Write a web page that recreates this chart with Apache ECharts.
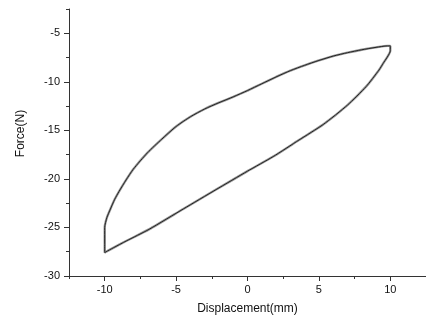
<!DOCTYPE html>
<html>
<head>
<meta charset="utf-8">
<script src="https://cdn.jsdelivr.net/npm/echarts@6/dist/echarts.min.js"></script>
<style>html,body{margin:0;padding:0;background:#fff}#c{width:426px;height:320px}</style>
</head>
<body>
<div id="c"></div>
<script>
// Displacement (mm) and Force (N) around the hysteresis loop
var displacement = [-10.0, -10.0, -10.0, -9.85, -9.6, -9.3, -9.0, -8.5, -8.0, -7.0, -6.0, -5.0, -4.0, -3.0, -2.0, -1.0, 0.0, 1.0, 2.0, 3.0, 4.0, 5.0, 6.0, 7.0, 8.0, 9.0, 9.8, 10.0,
                    10.0, 9.5, 9.2, 8.3, 7.0, 5.3, 3.6, 1.8, 0.0, -2.2, -4.5, -6.9, -8.5, -9.4, -9.9, -10.0];
var force = [-27.6, -26.5, -25.0, -24.0, -23.1, -22.1, -21.3, -20.1, -19.0, -17.3, -15.9, -14.6, -13.6, -12.8, -12.15, -11.55, -10.9, -10.2, -9.5, -8.85, -8.3, -7.8, -7.35, -7.0, -6.7, -6.45, -6.3, -6.3,
             -6.8, -8.1, -8.8, -10.5, -12.4, -14.4, -16.0, -17.7, -19.2, -21.1, -23.1, -25.2, -26.4, -27.1, -27.5, -27.6];
var xTicks = [-10, -5, 0, 5, 10];
var xMinorTicks = [-12.5, -7.5, -2.5, 2.5, 7.5, 12.5];
var yTicks = [-30, -25, -20, -15, -10, -5];
var yMinorTicks = [-27.5, -22.5, -17.5, -12.5, -7.5, -2.5];

var pts = displacement.map(function (x, i) { return [x, force[i]]; });
var font = 'Liberation Sans, Arial, sans-serif';
var chart = echarts.init(document.getElementById('c'));
function xAx(main) {
  return {
    type: 'value', min: -12.5, max: 12.5, position: 'bottom',
    name: main ? 'Displacement(mm)' : '', nameLocation: 'middle', nameGap: 27,
    nameTextStyle: { fontFamily: font, fontSize: 12, color: '#111' },
    axisLine: { show: main, onZero: false, lineStyle: { color: '#333', width: 1 } },
    axisTick: { show: true, inside: false, length: main ? 5 : 3, customValues: main ? xTicks : xMinorTicks, lineStyle: { color: '#333' } },
    axisLabel: { show: main, customValues: xTicks, margin: 8, fontFamily: font, fontSize: 11, color: '#111' },
    splitLine: { show: false }
  };
}
function yAx(main) {
  return {
    type: 'value', min: -30, max: -2.5, position: 'left',
    name: main ? 'Force(N)' : '', nameLocation: 'middle', nameGap: 42, nameRotate: 90,
    nameTextStyle: { fontFamily: font, fontSize: 12, color: '#111', padding: [0, 0, 0, 18] },
    axisLine: { show: main, onZero: false, lineStyle: { color: '#333', width: 1 } },
    axisTick: { show: true, inside: false, length: main ? 5 : 3, customValues: main ? yTicks : yMinorTicks, lineStyle: { color: '#333' } },
    axisLabel: { show: main, customValues: yTicks, margin: 9, fontFamily: font, fontSize: 11, color: '#111' },
    splitLine: { show: false }
  };
}
chart.setOption({
  animation: false,
  backgroundColor: '#fff',
  grid: { left: 69, top: 9, right: -1, bottom: 43 },
  xAxis: [xAx(true), xAx(false)],
  yAxis: [yAx(true), yAx(false)],
  series: [
    { type: 'line', data: pts, showSymbol: false, smooth: 0.2, lineStyle: { color: '#9a9a9a', width: 2.4 } },
    { type: 'line', data: pts, showSymbol: false, smooth: 0.2, lineStyle: { color: '#222', width: 1 } }
  ]
});
</script>
</body>
</html>
